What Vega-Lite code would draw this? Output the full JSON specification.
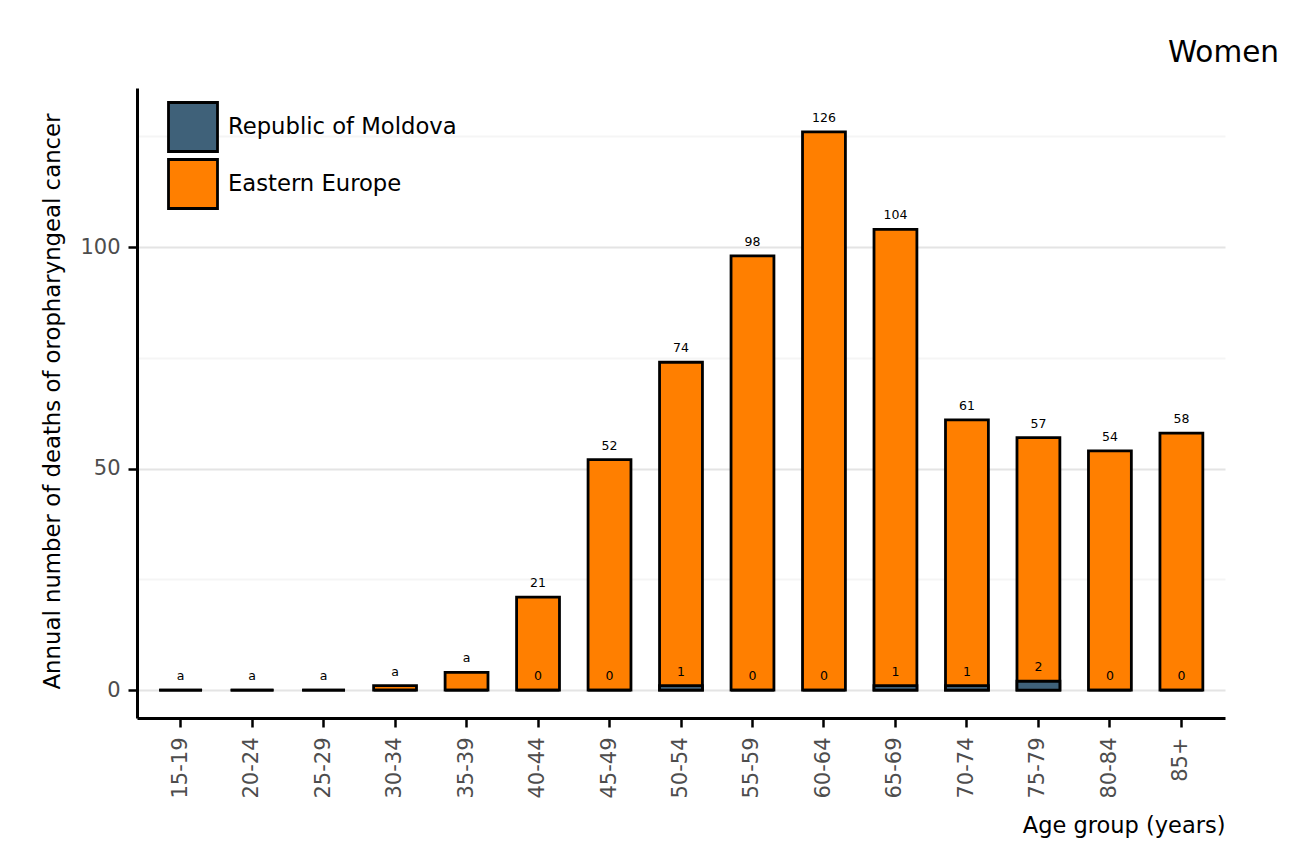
{
  "$schema": "https://vega.github.io/schema/vega-lite/v6.json",
  "width": 1088,
  "height": 630,
  "autosize": "none",
  "padding": {"left": 137, "top": 88, "right": 86, "bottom": 145},
  "background": "white",
  "config": {"font": "DejaVu Sans", "view": {"stroke": null}},
  "title": {"text": "Women", "anchor": "end", "fontSize": 29.5, "fontWeight": "normal", "color": "black", "dx": 54, "offset": 20},
  "data": {"values": [
    {"age": "15-19", "region": "Eastern Europe", "deaths": 0, "label": "a"},
    {"age": "20-24", "region": "Eastern Europe", "deaths": 0, "label": "a"},
    {"age": "25-29", "region": "Eastern Europe", "deaths": 0, "label": "a"},
    {"age": "30-34", "region": "Eastern Europe", "deaths": 1, "label": "a"},
    {"age": "35-39", "region": "Eastern Europe", "deaths": 4, "label": "a"},
    {"age": "40-44", "region": "Eastern Europe", "deaths": 21, "label": "21"},
    {"age": "45-49", "region": "Eastern Europe", "deaths": 52, "label": "52"},
    {"age": "50-54", "region": "Eastern Europe", "deaths": 74, "label": "74"},
    {"age": "55-59", "region": "Eastern Europe", "deaths": 98, "label": "98"},
    {"age": "60-64", "region": "Eastern Europe", "deaths": 126, "label": "126"},
    {"age": "65-69", "region": "Eastern Europe", "deaths": 104, "label": "104"},
    {"age": "70-74", "region": "Eastern Europe", "deaths": 61, "label": "61"},
    {"age": "75-79", "region": "Eastern Europe", "deaths": 57, "label": "57"},
    {"age": "80-84", "region": "Eastern Europe", "deaths": 54, "label": "54"},
    {"age": "85+", "region": "Eastern Europe", "deaths": 58, "label": "58"},
    {"age": "15-19", "region": "Republic of Moldova", "deaths": 0, "label": ""},
    {"age": "20-24", "region": "Republic of Moldova", "deaths": 0, "label": ""},
    {"age": "25-29", "region": "Republic of Moldova", "deaths": 0, "label": ""},
    {"age": "30-34", "region": "Republic of Moldova", "deaths": 0, "label": ""},
    {"age": "35-39", "region": "Republic of Moldova", "deaths": 0, "label": ""},
    {"age": "40-44", "region": "Republic of Moldova", "deaths": 0, "label": "0"},
    {"age": "45-49", "region": "Republic of Moldova", "deaths": 0, "label": "0"},
    {"age": "50-54", "region": "Republic of Moldova", "deaths": 1, "label": "1"},
    {"age": "55-59", "region": "Republic of Moldova", "deaths": 0, "label": "0"},
    {"age": "60-64", "region": "Republic of Moldova", "deaths": 0, "label": "0"},
    {"age": "65-69", "region": "Republic of Moldova", "deaths": 1, "label": "1"},
    {"age": "70-74", "region": "Republic of Moldova", "deaths": 1, "label": "1"},
    {"age": "75-79", "region": "Republic of Moldova", "deaths": 2, "label": "2"},
    {"age": "80-84", "region": "Republic of Moldova", "deaths": 0, "label": "0"},
    {"age": "85+", "region": "Republic of Moldova", "deaths": 0, "label": "0"}
  ]},
  "encoding": {
    "x": {
      "field": "age", "type": "nominal", "sort": null,
      "scale": {"paddingInner": 0.4, "paddingOuter": 0.31},
      "axis": {
        "title": "Age group (years)", "titleAnchor": "end", "titleFontSize": 22.5, "titleFontWeight": "normal", "titleColor": "black",
        "titleBaseline": "alphabetic", "titleY": 114,
        "labelAngle": -90, "labelAlign": "right", "labelBaseline": "middle", "labelFontSize": 21, "labelColor": "#4d4d4d", "labelPadding": 10,
        "tickColor": "black", "tickSize": 9, "tickWidth": 2.5,
        "domainColor": "black", "domainWidth": 3, "grid": false
      }
    },
    "y": {
      "field": "deaths", "type": "quantitative",
      "scale": {"domain": [-6.3, 135.9], "nice": false, "zero": false},
      "axis": {
        "title": "Annual number of deaths of oropharyngeal cancer", "titleFontSize": 22.8, "titleFontWeight": "normal", "titleColor": "black",
        "titleX": -85, "titleY": 313, "titleAlign": "center", "titleBaseline": "middle",
        "values": [0, 25, 50, 75, 100, 125],
        "labelExpr": "datum.value % 50 === 0 ? datum.label : ''",
        "labelFontSize": 21, "labelColor": "#4d4d4d", "labelPadding": 8,
        "tickColor": "black", "tickSize": 9, "tickWidth": 2.5,
        "tickOpacity": {"condition": {"test": "datum.value % 50 === 0", "value": 1}, "value": 0},
        "grid": true, "gridWidth": 2,
        "gridColor": {"condition": {"test": "datum.value % 50 === 0", "value": "#e4e4e4"}, "value": "#f5f5f5"},
        "domainColor": "black", "domainWidth": 3
      }
    }
  },
  "layer": [
    {
      "transform": [{"filter": "datum.region === 'Eastern Europe'"}],
      "mark": {"type": "bar", "stroke": "black", "strokeWidth": 2.8},
      "encoding": {
        "color": {
          "field": "region", "type": "nominal",
          "scale": {"domain": ["Republic of Moldova", "Eastern Europe"], "range": ["#3f6179", "#ff7f00"]},
          "legend": {
            "title": null, "orient": "none", "legendX": 30, "legendY": 13,
            "symbolType": "square", "symbolSize": 2401, "symbolStrokeColor": "black", "symbolStrokeWidth": 2.8, "symbolOpacity": 1,
            "labelFontSize": 22.7, "labelColor": "black", "labelOffset": 9, "labelLimit": 400, "rowPadding": -5
          }
        }
      }
    },
    {
      "transform": [{"filter": "datum.region === 'Republic of Moldova'"}],
      "mark": {"type": "bar", "stroke": "black", "strokeWidth": 2.8},
      "encoding": {"color": {"field": "region", "type": "nominal"}}
    },
    {
      "mark": {"type": "text", "fontSize": 12.5, "color": "black", "baseline": "alphabetic", "dy": -10},
      "encoding": {"text": {"field": "label"}}
    }
  ]
}
